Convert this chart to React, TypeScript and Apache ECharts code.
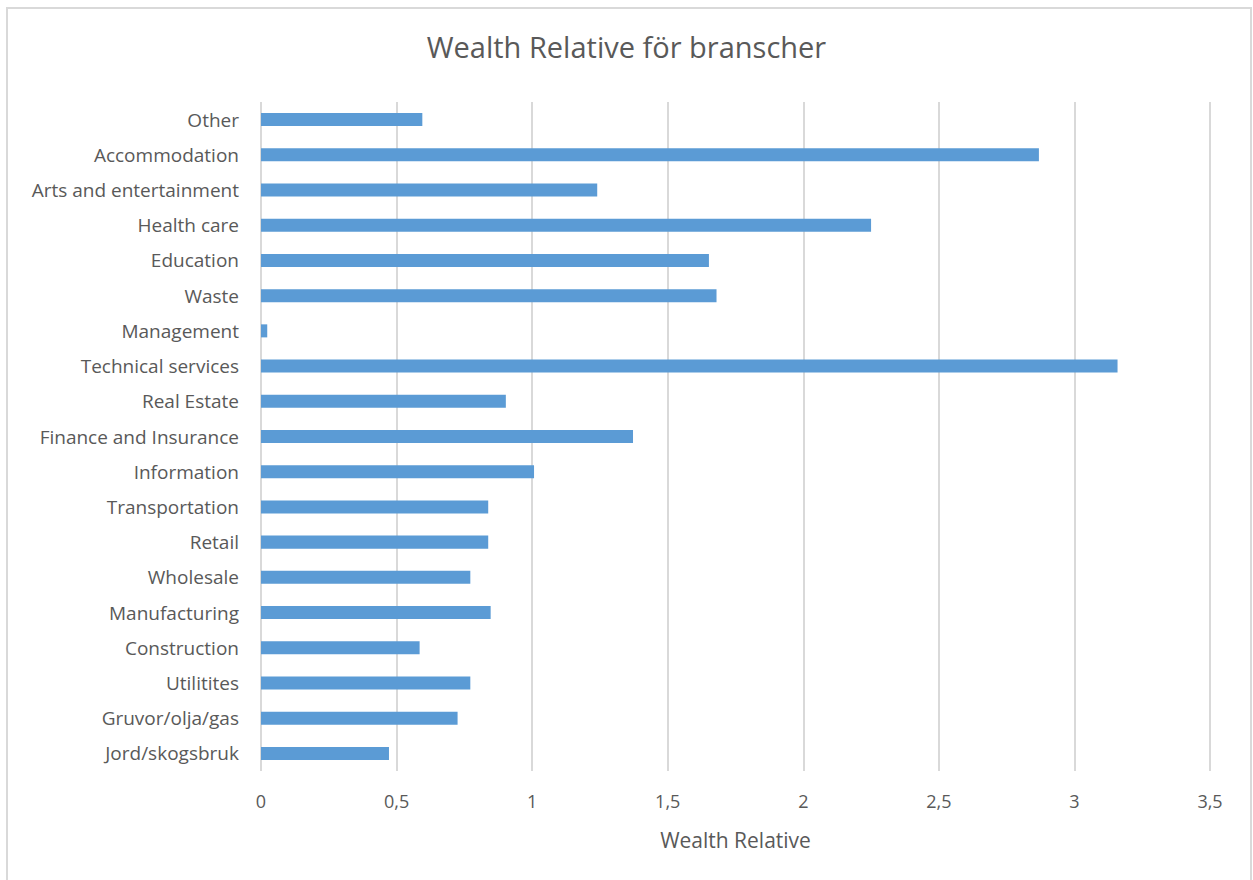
import React, { useEffect, useRef } from "react";
import * as echarts from "echarts";

const categories = [
  "Jord/skogsbruk",
  "Gruvor/olja/gas",
  "Utilitites",
  "Construction",
  "Manufacturing",
  "Wholesale",
  "Retail",
  "Transportation",
  "Information",
  "Finance and Insurance",
  "Real Estate",
  "Technical services",
  "Management",
  "Waste",
  "Education",
  "Health care",
  "Arts and entertainment",
  "Accommodation",
  "Other",
];

const wealthRelative = [
  0.472, 0.725, 0.772, 0.585, 0.847, 0.772, 0.838, 0.838, 1.007, 1.372,
  0.903, 3.159, 0.023, 1.68, 1.652, 2.25, 1.24, 2.869, 0.595,
];

const titleText = "Wealth Relative för branscher";
const axisName = "Wealth Relative";

const FONT = "'Open Sans', 'Noto Sans', sans-serif";
const TEXT = "#595959";

export default function App() {
  const ref = useRef<HTMLDivElement>(null);
  useEffect(() => {
    if (!ref.current) return;
    const chart = echarts.init(ref.current, undefined, { renderer: "svg" });
    chart.setOption({
      animation: false,
      backgroundColor: "#ffffff",
      textStyle: { fontFamily: FONT },
      title: {
        text: titleText,
        left: "center",
        top: 27,
        textStyle: { fontFamily: FONT, fontSize: 29, fontWeight: "normal", color: TEXT },
      },
      graphic: [
        {
          type: "rect",
          shape: { x: 7, y: 8, width: 1244, height: 880 },
          style: { fill: "none", stroke: "#d9d9d9", lineWidth: 2 },
          silent: true,
        },
      ],
      grid: { left: 261, right: 43, top: 102, bottom: 109, containLabel: false },
      xAxis: {
        type: "value",
        min: 0,
        max: 3.5,
        interval: 0.5,
        name: axisName,
        nameLocation: "middle",
        nameGap: 58,
        nameTextStyle: { fontFamily: FONT, fontSize: 21, color: TEXT },
        axisLine: { show: false },
        axisTick: { show: false },
        splitLine: { show: true, lineStyle: { color: "#d9d9d9", width: 2 } },
        axisLabel: {
          margin: 21,
          fontFamily: FONT,
          fontSize: 18,
          color: TEXT,
          formatter: (v: number) => String(v).replace(".", ","),
        },
      },
      yAxis: {
        type: "category",
        data: categories,
        axisLine: { show: false },
        axisTick: { show: false },
        axisLabel: { margin: 22, fontFamily: FONT, fontSize: 19, color: TEXT },
      },
      series: [
        {
          type: "bar",
          data: wealthRelative,
          barWidth: "37%",
          itemStyle: { color: "#5b9bd5" },
        },
      ],
    });
    return () => chart.dispose();
  }, []);
  return (
    <div
      ref={ref}
      style={{ position: "fixed", left: 0, top: 0, width: 1253, height: 880 }}
    />
  );
}
